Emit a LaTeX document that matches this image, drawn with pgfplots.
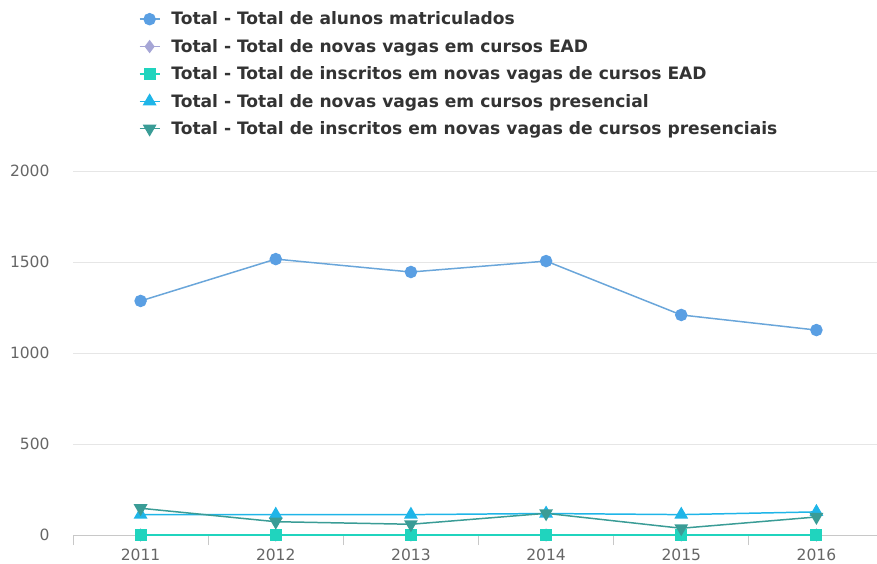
\documentclass[border=0pt]{standalone}
\usepackage{fontspec}
\setmainfont{DejaVu Sans}
\usepackage{pgfplots}
\pgfplotsset{compat=1.18}

\definecolor{cAlunos}{HTML}{5A9FE3}
\definecolor{cAlunosL}{HTML}{6AA6DA}
\definecolor{cVagasEAD}{HTML}{A6A6D6}
\definecolor{cInscEAD}{HTML}{20D4BE}
\definecolor{cVagasPres}{HTML}{1FB5E8}
\definecolor{cInscPres}{HTML}{3A9C96}
\definecolor{gridc}{HTML}{E6E6E6}
\definecolor{axisc}{HTML}{C8C8C8}
\definecolor{labc}{HTML}{666666}
\definecolor{legc}{HTML}{333333}

\begin{document}
\begin{tikzpicture}
\path[use as bounding box] (-73bp,-29bp) rectangle (804bp,535bp);
\begin{axis}[
  at={(0,0)}, anchor=south west,
  scale only axis,
  width=811bp, height=364bp,
  xmin=2010.5, xmax=2016.5,
  ymin=0, ymax=2000,
  xtick={2011,2012,2013,2014,2015,2016},
  minor xtick={2010.5,2011.5,2012.5,2013.5,2014.5,2015.5,2016.5},
  ytick={0,500,1000,1500,2000},
  major tick length=0pt,
  minor tick length=10bp,
  tick align=outside,
  minor tick style={axisc, line width=0.8pt},
  ymajorgrids=true,
  grid style={gridc, line width=0.8pt},
  axis x line*=bottom,
  axis y line*=left,
  y axis line style={draw=none},
  x axis line style={axisc, line width=0.8pt, -},
  /pgf/number format/assume math mode=true,
  /pgf/number format/1000 sep={},
  ticklabel style={font=\fontsize{15.5bp}{18bp}\selectfont, text=labc},
  yticklabel style={anchor=east, xshift=-20bp},
  xticklabel style={yshift=-10bp},
  clip=false,
  legend cell align=left,
  legend image code/.code={\draw[mark repeat=2,mark phase=2,#1] plot coordinates {(0bp,0bp)(10bp,0bp)(20bp,0bp)};},
  legend style={at={(0.081,1.443)}, anchor=north west, draw=none, fill=none,
    font=\fontsize{17.1bp}{20bp}\selectfont\bfseries, text=legc,
    row sep=8.9bp, inner sep=0pt,
    /tikz/every odd column/.append style={column sep=9bp}},
]
\addplot[color=cAlunosL, line width=1.5pt, mark=*, mark size=5.5bp, mark options={fill=cAlunos, draw=cAlunos}]
  coordinates {(2011,1286)(2012,1516)(2013,1445)(2014,1505)(2015,1209)(2016,1126)};
\addlegendentry{Total - Total de alunos matriculados}
\addplot[color=cVagasEAD, line width=1.5pt, mark=diamond*, mark size=5.5bp, mark options={fill=cVagasEAD}]
  coordinates {(2011,0)(2012,0)(2013,0)(2014,0)(2015,0)(2016,0)};
\addlegendentry{Total - Total de novas vagas em cursos EAD}
\addplot[color=cInscEAD, line width=1.5pt, mark=square*, mark size=5.2bp, mark options={fill=cInscEAD}]
  coordinates {(2011,0)(2012,0)(2013,0)(2014,0)(2015,0)(2016,0)};
\addlegendentry{Total - Total de inscritos em novas vagas de cursos EAD}
\addplot[color=cVagasPres, line width=1.5pt, mark=triangle*, mark size=6.5bp, mark options={fill=cVagasPres}]
  coordinates {(2011,112)(2012,112)(2013,112)(2014,118)(2015,112)(2016,127)};
\addlegendentry{Total - Total de novas vagas em cursos presencial}
\addplot[color=cInscPres, line width=1.5pt, mark=triangle*, mark size=6.5bp, mark options={fill=cInscPres, rotate=180}]
  coordinates {(2011,147)(2012,73)(2013,59)(2014,119)(2015,37)(2016,99)};
\addlegendentry{Total - Total de inscritos em novas vagas de cursos presenciais}
\end{axis}
\end{tikzpicture}
\end{document}
